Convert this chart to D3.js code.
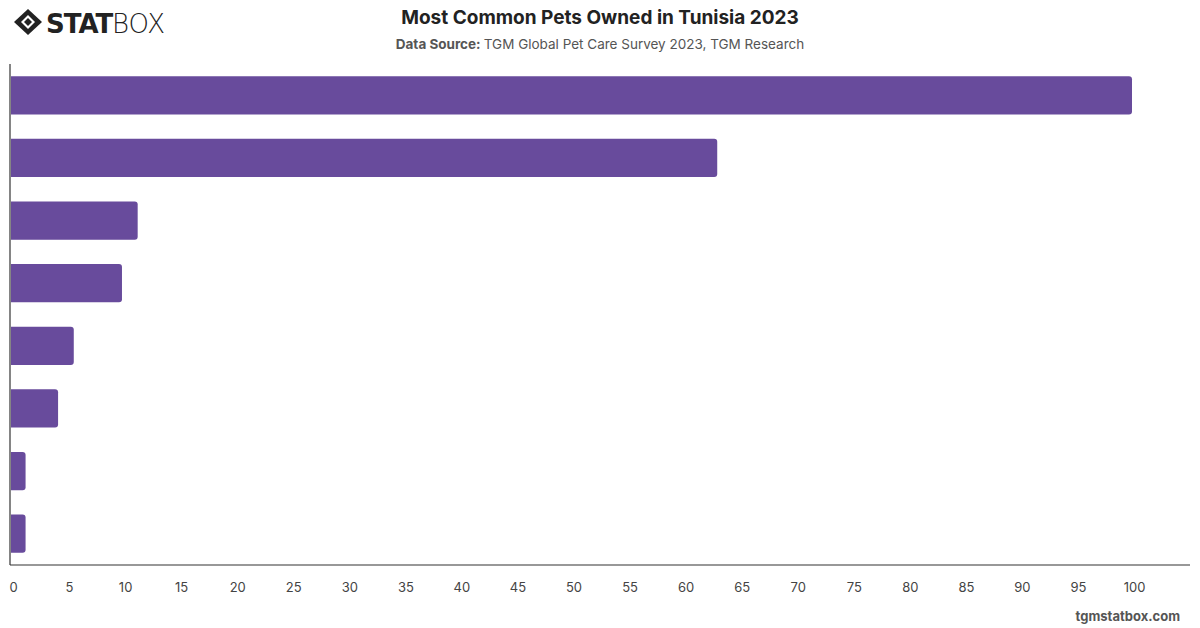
<!DOCTYPE html>
<html>
<head>
<meta charset="utf-8">
<script src="https://cdn.jsdelivr.net/npm/d3@7"></script>
<style>
  body { margin: 0; background: #fff; font-family: Inter, "Noto Sans", sans-serif; }
  svg { display: block; }
</style>
</head>
<body>
<svg id="chart"></svg>
<script>
const width = 1200;
const height = 628;

// Chart data (category names are not printed on the reference)
const pets = ["Cats", "Dogs", "Birds", "Fish", "Rabbits", "Turtles", "Hamsters", "Other"];
const shares = [100, 63, 11.3, 9.9, 5.6, 4.2, 1.3, 1.3];
const xTicks = [0, 5, 10, 15, 20, 25, 30, 35, 40, 45, 50, 55, 60, 65, 70, 75, 80, 85, 90, 95, 100];

const margin = { top: 64, right: 10, bottom: 63, left: 10 };

const svg = d3.select("#chart")
    .attr("width", width)
    .attr("height", height);

// Scales
const x = d3.scaleLinear()
    .domain([0, 100])
    .range([margin.left + 1, 1132]);

const y = d3.scaleBand()
    .domain(pets)
    .range([margin.top, height - margin.bottom])
    .paddingInner(0.39)
    .paddingOuter(0.195);

// Bars with rounded right end
const r = 3;
svg.append("g")
    .selectAll("path")
    .data(pets.map((p, i) => ({ pet: p, value: shares[i] })))
    .enter().append("path")
    .attr("fill", "#684b9c")
    .attr("d", d => {
        const x0 = x(0), x1 = x(d.value);
        const y0 = y(d.pet), h = y.bandwidth();
        const rr = Math.min(r, (x1 - x0) / 2);
        return `M${x0},${y0} H${x1 - rr} Q${x1},${y0} ${x1},${y0 + rr} V${y0 + h - rr} Q${x1},${y0 + h} ${x1 - rr},${y0 + h} H${x0} Z`;
    });

// Axis lines
svg.append("line")
    .attr("x1", margin.left).attr("x2", margin.left)
    .attr("y1", margin.top).attr("y2", height - margin.bottom)
    .attr("stroke", "#333").attr("stroke-width", 1.2);

svg.append("line")
    .attr("x1", margin.left).attr("x2", width - margin.right)
    .attr("y1", height - margin.bottom).attr("y2", height - margin.bottom)
    .attr("stroke", "#333").attr("stroke-width", 1.2);

// X axis tick labels
const xAxis = d3.axisBottom(x)
    .tickValues(xTicks)
    .tickSize(0)
    .tickPadding(18);

const gx = svg.append("g")
    .attr("transform", `translate(2,${height - margin.bottom})`)
    .call(xAxis);
gx.select(".domain").remove();
gx.selectAll("text")
    .style("font-family", "Inter, 'Noto Sans', sans-serif")
    .style("font-size", "13px")
    .attr("fill", "#444");

// Title and source
svg.append("text")
    .attr("x", 600).attr("y", 24)
    .attr("text-anchor", "middle")
    .style("font-size", "19px")
    .style("font-weight", "700")
    .attr("fill", "#222")
    .text("Most Common Pets Owned in Tunisia 2023");

const sub = svg.append("text")
    .attr("x", 600).attr("y", 49)
    .attr("text-anchor", "middle")
    .style("font-size", "13.5px")
    .attr("fill", "#555");
sub.append("tspan").style("font-weight", "700").text("Data Source: ");
sub.append("tspan").text("TGM Global Pet Care Survey 2023, TGM Research");

// Logo
const logo = svg.append("g").attr("transform", "translate(0,0)");
logo.append("path")
    .attr("d", "M28,9 L42,22 L28,35 L14,22 Z")
    .attr("fill", "#222");
logo.append("path")
    .attr("d", "M28,15 L35,22 L28,29 L21,22 Z")
    .attr("fill", "#fff");
logo.append("path")
    .attr("d", "M28,18 L32,22 L28,26 L24,22 Z")
    .attr("fill", "#222");
logo.append("text")
    .attr("x", 46).attr("y", 33)
    .style("font-family", "'DejaVu Sans', sans-serif")
    .style("font-size", "26px")
    .style("font-weight", "900")
    .style("letter-spacing", "-1px")
    .attr("fill", "#222")
    .text("STAT");
logo.append("text")
    .attr("x", 112).attr("y", 33)
    .style("font-family", "'DejaVu Sans', sans-serif")
    .style("font-size", "26px")
    .style("font-weight", "300")
    .attr("fill", "#222")
    .text("BOX");

// Footer
svg.append("text")
    .attr("x", 1180).attr("y", 621)
    .attr("text-anchor", "end")
    .style("font-size", "13px")
    .style("font-weight", "700")
    .attr("fill", "#555")
    .text("tgmstatbox.com");
</script>
</body>
</html>
